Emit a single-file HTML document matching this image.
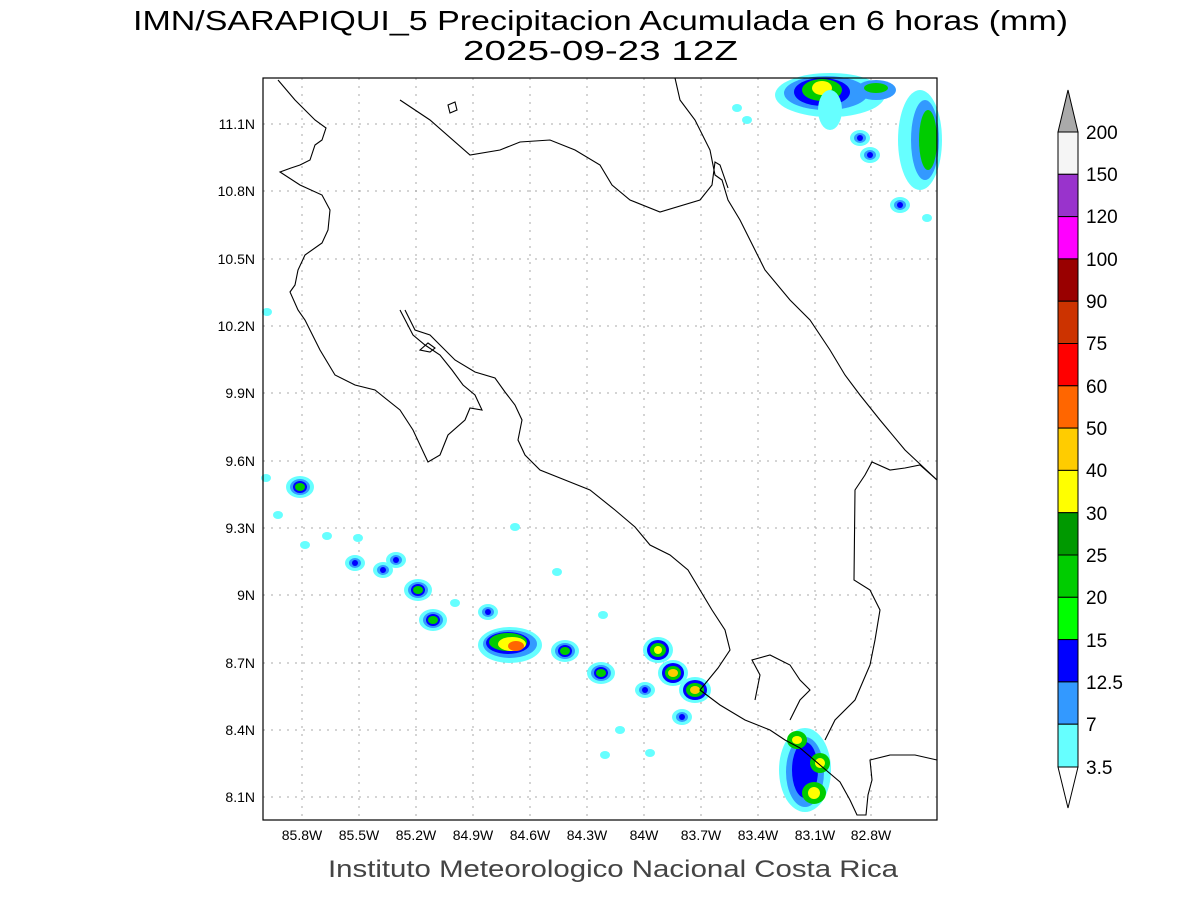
<!DOCTYPE html>
<html><head><meta charset="utf-8">
<style>
html,body{margin:0;padding:0;background:#fff;}
svg{display:block;font-family:"Liberation Sans",sans-serif;}
</style></head><body>
<svg width="1200" height="900" viewBox="0 0 1200 900" xmlns="http://www.w3.org/2000/svg">
<rect width="1200" height="900" fill="#fff"/>
<text x="133" y="30" font-size="28" fill="#000" textLength="935" lengthAdjust="spacingAndGlyphs">IMN/SARAPIQUI_5 Precipitacion Acumulada en 6 horas (mm)</text>
<text x="463" y="60" font-size="28" fill="#000" textLength="275" lengthAdjust="spacingAndGlyphs">2025-09-23 12Z</text>

<!-- grid -->
<g stroke="#aaa" stroke-width="1" stroke-dasharray="2,6">
<line x1="302" y1="78" x2="302" y2="820"/><line x1="359" y1="78" x2="359" y2="820"/><line x1="416" y1="78" x2="416" y2="820"/><line x1="473" y1="78" x2="473" y2="820"/><line x1="530" y1="78" x2="530" y2="820"/><line x1="587" y1="78" x2="587" y2="820"/><line x1="644" y1="78" x2="644" y2="820"/><line x1="701" y1="78" x2="701" y2="820"/><line x1="758" y1="78" x2="758" y2="820"/><line x1="815" y1="78" x2="815" y2="820"/><line x1="871" y1="78" x2="871" y2="820"/>
<line x1="263" y1="124" x2="937" y2="124"/><line x1="263" y1="191" x2="937" y2="191"/><line x1="263" y1="259" x2="937" y2="259"/><line x1="263" y1="326" x2="937" y2="326"/><line x1="263" y1="393" x2="937" y2="393"/><line x1="263" y1="461" x2="937" y2="461"/><line x1="263" y1="528" x2="937" y2="528"/><line x1="263" y1="595" x2="937" y2="595"/><line x1="263" y1="663" x2="937" y2="663"/><line x1="263" y1="730" x2="937" y2="730"/><line x1="263" y1="797" x2="937" y2="797"/>
</g>

<defs>
<g id="b1"><ellipse rx="14" ry="11" fill="#66ffff"/><ellipse rx="10" ry="8" fill="#3399ff"/><ellipse rx="7" ry="6" fill="#0000ff"/><ellipse rx="5" ry="4" fill="#00cc00"/></g>
<g id="b2"><ellipse rx="10" ry="8" fill="#66ffff"/><ellipse rx="6" ry="5" fill="#3399ff"/><ellipse rx="3" ry="3" fill="#0000ff"/></g>
<g id="b3"><ellipse rx="5" ry="4" fill="#66ffff"/></g>
</defs>
<g>
<use href="#b1" x="300" y="487"/><use href="#b2" x="383" y="570"/><use href="#b2" x="355" y="563"/><use href="#b1" x="418" y="590"/><use href="#b1" x="433" y="620"/><use href="#b3" x="455" y="603"/>
<use href="#b2" x="396" y="560"/><use href="#b3" x="358" y="538"/><use href="#b3" x="305" y="545"/><use href="#b3" x="278" y="515"/><use href="#b3" x="327" y="536"/>
<ellipse cx="510" cy="645" rx="32" ry="18" fill="#66ffff"/><ellipse cx="510" cy="644" rx="27" ry="14" fill="#3399ff"/><ellipse cx="508" cy="643" rx="22" ry="11" fill="#0000ff"/><ellipse cx="508" cy="642" rx="19" ry="9" fill="#00cc00"/><ellipse cx="512" cy="644" rx="14" ry="7" fill="#ffff00"/><ellipse cx="516" cy="646" rx="8" ry="5" fill="#ff6600"/>
<use href="#b1" x="565" y="651"/><use href="#b1" x="601" y="673"/><use href="#b2" x="645" y="690"/><use href="#b2" x="682" y="717"/><use href="#b3" x="620" y="730"/><use href="#b3" x="605" y="755"/><use href="#b3" x="650" y="753"/><use href="#b3" x="603" y="615"/><use href="#b3" x="557" y="572"/><use href="#b2" x="488" y="612"/><use href="#b3" x="515" y="527"/>
<g transform="translate(658,650)"><ellipse rx="15" ry="13" fill="#66ffff"/><ellipse rx="11" ry="10" fill="#0000ff"/><ellipse rx="8" ry="7" fill="#00cc00"/><ellipse rx="4" ry="4" fill="#ffff00"/></g>
<g transform="translate(673,673)"><ellipse rx="15" ry="13" fill="#66ffff"/><ellipse rx="11" ry="10" fill="#0000ff"/><ellipse rx="8" ry="7" fill="#00cc00"/><ellipse rx="5" ry="4" fill="#ffcc00"/></g>
<g transform="translate(695,690)"><ellipse rx="16" ry="13" fill="#66ffff"/><ellipse rx="12" ry="10" fill="#0000ff"/><ellipse rx="9" ry="7" fill="#00cc00"/><ellipse rx="5" ry="4" fill="#ffcc00"/></g>
<ellipse cx="805" cy="770" rx="26" ry="42" fill="#66ffff"/><ellipse cx="805" cy="772" rx="19" ry="35" fill="#3399ff"/><ellipse cx="805" cy="770" rx="13" ry="28" fill="#0000ff"/>
<g transform="translate(797,740)"><ellipse rx="10" ry="9" fill="#00cc00"/><ellipse rx="5" ry="4" fill="#ffff00"/></g>
<g transform="translate(820,763)"><ellipse rx="10" ry="10" fill="#00cc00"/><ellipse rx="5" ry="5" fill="#ffff00"/></g>
<g transform="translate(814,793)"><ellipse rx="12" ry="11" fill="#00cc00"/><ellipse rx="6" ry="6" fill="#ffff00"/></g>
<ellipse cx="830" cy="95" rx="55" ry="22" fill="#66ffff"/><ellipse cx="826" cy="93" rx="42" ry="17" fill="#3399ff"/><ellipse cx="822" cy="92" rx="28" ry="14" fill="#0000ff"/><ellipse cx="822" cy="90" rx="20" ry="11" fill="#00cc00"/><ellipse cx="822" cy="88" rx="10" ry="7" fill="#ffff00"/>
<ellipse cx="830" cy="110" rx="12" ry="20" fill="#66ffff"/>
<ellipse cx="920" cy="140" rx="22" ry="50" fill="#66ffff"/><ellipse cx="925" cy="140" rx="14" ry="40" fill="#3399ff"/><ellipse cx="928" cy="140" rx="9" ry="30" fill="#00cc00"/>
<ellipse cx="876" cy="90" rx="20" ry="10" fill="#3399ff"/><ellipse cx="876" cy="88" rx="12" ry="5" fill="#00cc00"/>
<use href="#b2" x="860" y="138"/><use href="#b2" x="870" y="155"/><use href="#b2" x="900" y="205"/><use href="#b3" x="927" y="218"/><use href="#b3" x="737" y="108"/><use href="#b3" x="747" y="120"/><use href="#b3" x="267" y="312"/><use href="#b3" x="266" y="478"/>
</g>

<g fill="none" stroke="#000" stroke-width="1.1">
<polyline points="278,80 295,100 315,120 326,128 322,140 315,145 310,160 300,165 291,168 280,172 300,185 322,195 330,210 328,230 322,243 305,255 298,270 295,285 290,292 298,310 305,320 320,350 335,375 355,385 375,390 400,410 413,430 428,462 440,455 448,435 465,420 470,408 482,410 475,395 463,385 452,370 440,355 425,345 413,335 400,310"/>
<polyline points="405,310 415,330 430,335 440,345 455,360 475,372 495,378 505,392 515,405 522,420 518,440 525,455 540,470 565,480 590,490 615,510 635,527 650,545 670,555 688,570 700,590 712,610 725,630 730,650 718,668 700,690 720,705 745,720 770,730 785,740 800,748 820,765 840,782 850,800 857,815 866,815 868,795 872,780 870,760 890,755 915,755 937,760"/>
<polyline points="675,78 680,100 695,120 710,150 715,175 722,180 728,200 740,220 750,240 765,270 790,300 810,320 830,350 845,375 860,395 880,420 905,450 937,480"/>
<polyline points="400,100 430,120 470,155 500,150 520,142 550,140 575,150 600,165 612,185 630,200 660,212 700,200 712,185 715,162 720,165 728,188"/>
<polyline points="937,480 920,465 905,468 890,470 872,462 865,475 855,490 854,580 870,590 880,610 875,640 870,665 855,700 835,720 825,740"/>
<polyline points="755,700 760,675 752,660 770,655 790,665 800,680 810,690 800,700 790,720"/>
<polygon points="448,105 455,102 457,110 450,113"/>
<polygon points="420,350 428,343 435,348 430,352"/>
</g>
<rect x="263" y="78" width="674" height="742" fill="none" stroke="#000" stroke-width="1.2"/>

<g font-size="14" fill="#000" text-anchor="middle">
<text x="302" y="840">85.8W</text><text x="359" y="840">85.5W</text><text x="416" y="840">85.2W</text><text x="473" y="840">84.9W</text><text x="530" y="840">84.6W</text><text x="587" y="840">84.3W</text><text x="644" y="840">84W</text><text x="701" y="840">83.7W</text><text x="758" y="840">83.4W</text><text x="815" y="840">83.1W</text><text x="871" y="840">82.8W</text>
</g>
<g font-size="14" fill="#000" text-anchor="end">
<text x="255" y="129">11.1N</text><text x="255" y="196">10.8N</text><text x="255" y="264">10.5N</text><text x="255" y="331">10.2N</text><text x="255" y="398">9.9N</text><text x="255" y="466">9.6N</text><text x="255" y="533">9.3N</text><text x="255" y="600">9N</text><text x="255" y="668">8.7N</text><text x="255" y="735">8.4N</text><text x="255" y="802">8.1N</text>
</g>
<text x="328" y="877" font-size="24" fill="#444" textLength="570" lengthAdjust="spacingAndGlyphs">Instituto Meteorologico Nacional Costa Rica</text>

<g stroke="#000" stroke-width="1">
<polygon points="1058,132 1078,132 1068,90" fill="#aaa"/>
<rect x="1058" y="132" width="20" height="42.3" fill="#f5f5f5"/>
<rect x="1058" y="174.3" width="20" height="42.3" fill="#9933cc"/>
<rect x="1058" y="216.6" width="20" height="42.3" fill="#ff00ff"/>
<rect x="1058" y="258.9" width="20" height="42.3" fill="#990000"/>
<rect x="1058" y="301.2" width="20" height="42.3" fill="#cc3300"/>
<rect x="1058" y="343.5" width="20" height="42.3" fill="#ff0000"/>
<rect x="1058" y="385.8" width="20" height="42.3" fill="#ff6600"/>
<rect x="1058" y="428.1" width="20" height="42.3" fill="#ffcc00"/>
<rect x="1058" y="470.4" width="20" height="42.3" fill="#ffff00"/>
<rect x="1058" y="512.7" width="20" height="42.3" fill="#009900"/>
<rect x="1058" y="555" width="20" height="42.3" fill="#00cc00"/>
<rect x="1058" y="597.3" width="20" height="42.3" fill="#00ff00"/>
<rect x="1058" y="639.6" width="20" height="42.3" fill="#0000ff"/>
<rect x="1058" y="681.9" width="20" height="42.3" fill="#3399ff"/>
<rect x="1058" y="724.2" width="20" height="42.8" fill="#66ffff"/>
<polygon points="1058,767 1078,767 1068,808" fill="#fff"/>
</g>
<g font-size="19" fill="#000">
<text x="1086" y="139">200</text><text x="1086" y="181">150</text><text x="1086" y="223">120</text><text x="1086" y="266">100</text><text x="1086" y="308">90</text><text x="1086" y="350">75</text><text x="1086" y="393">60</text><text x="1086" y="435">50</text><text x="1086" y="477">40</text><text x="1086" y="520">30</text><text x="1086" y="562">25</text><text x="1086" y="604">20</text><text x="1086" y="647">15</text><text x="1086" y="689">12.5</text><text x="1086" y="731">7</text><text x="1086" y="774">3.5</text>
</g>
</svg>
</body></html>
